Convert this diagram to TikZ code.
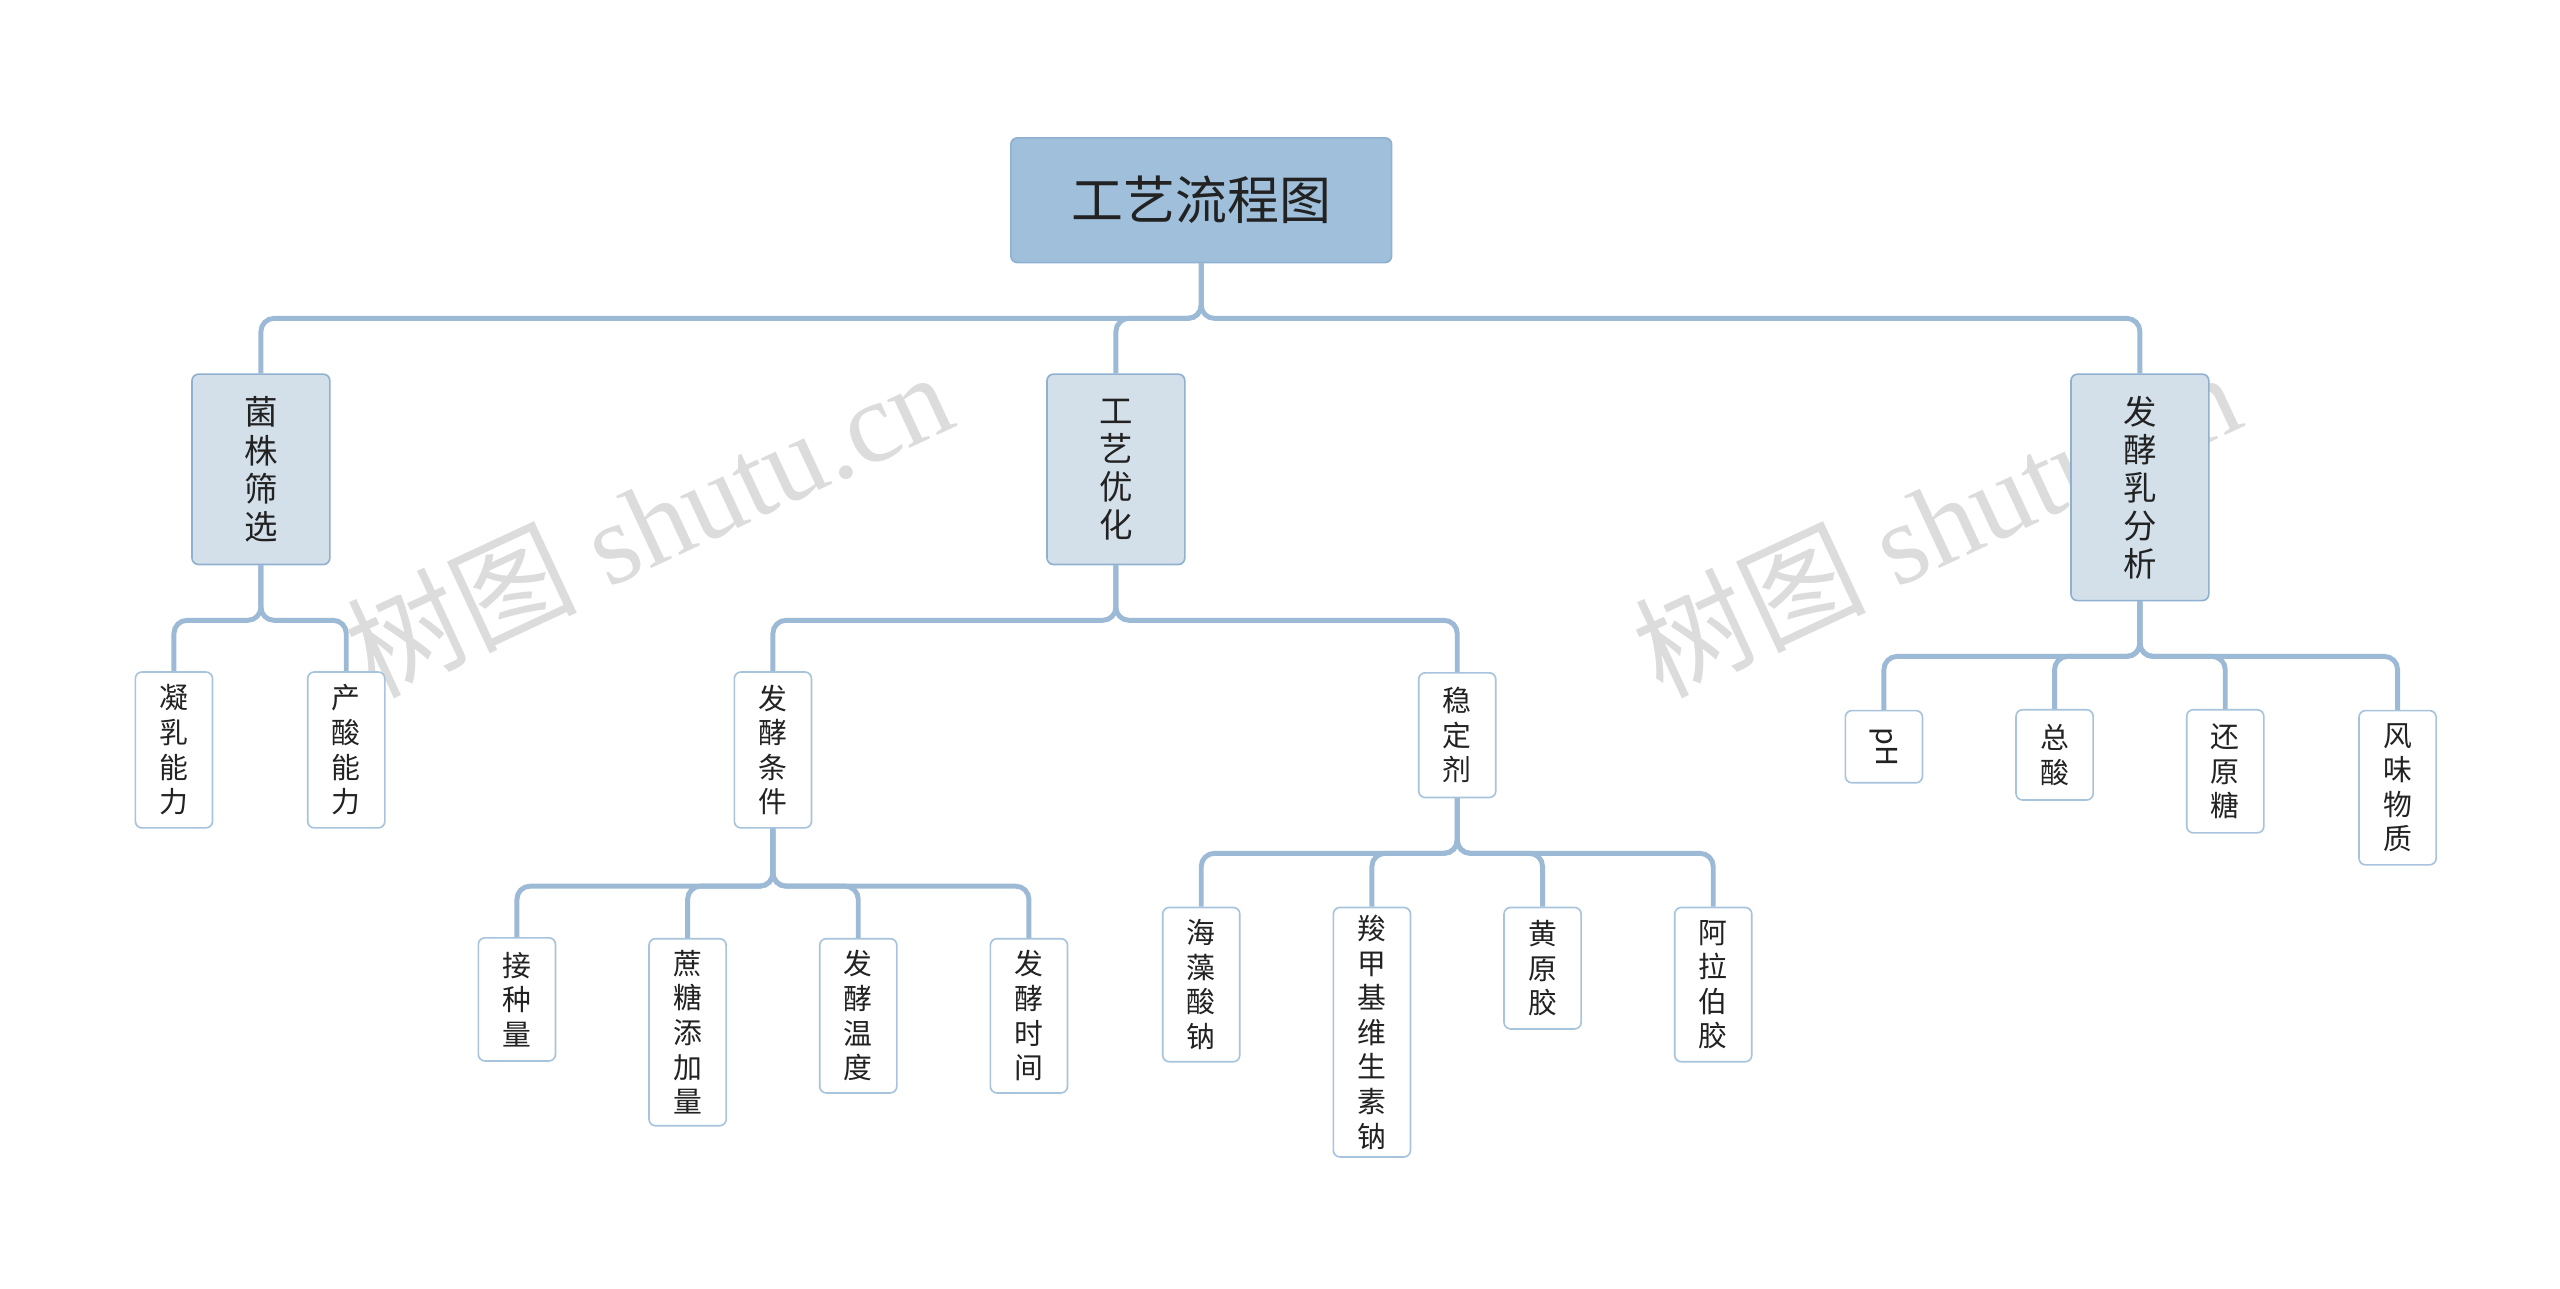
\documentclass[tikz,border=0pt]{standalone}
\usepackage{fontspec}
\setmainfont{Noto Sans CJK SC}
\newfontfamily\wmfont{Liberation Serif}
\begin{document}
\begin{tikzpicture}[x=0.5mm,y=-0.5mm,
 conn/.style={draw=lineblue,line width=1.5mm,rounded corners=4mm},
 rootbox/.style={draw=rootedge,fill=rootfill,line width=0.5mm,rounded corners=2mm,minimum width=116mm,minimum height=38mm,font=\fontsize{45}{50}\selectfont,text=textc},
 lvone/.style={draw=rootedge,fill=l1fill,line width=0.5mm,rounded corners=2mm,minimum width=42mm,align=center,font=\fontsize{29}{33}\selectfont,text=textc,inner sep=0pt},
 leaf/.style={draw=leafedge,fill=white,line width=0.5mm,rounded corners=2mm,minimum width=23.5mm,align=center,font=\fontsize{25}{30}\selectfont,text=textc,inner sep=0pt},
 wm/.style={text=wmgray,font=\wmfont\fontsize{100}{100}\selectfont,rotate=25}]
\definecolor{lineblue}{HTML}{9CBAD6}
\definecolor{rootedge}{HTML}{8FB0CF}
\definecolor{rootfill}{HTML}{9FBFDB}
\definecolor{l1fill}{HTML}{D3E0EA}
\definecolor{leafedge}{HTML}{A7C4DC}
\definecolor{textc}{HTML}{222222}
\definecolor{wmgray}{HTML}{DCDCDC}
\useasboundingbox (0,0) rectangle (1560,785);
\fill[white] (0,0) rectangle (1560,785);
\node[wm] (w1) at (395,318) {\fontspec{Noto Sans CJK SC}树图\wmfont\ shutu.cn};
\node[wm] (w2) at (1180,318) {\fontspec{Noto Sans CJK SC}树图\wmfont\ shutu.cn};

\node[rootbox] (root) at (732,122) {工艺流程图};
\node[lvone,minimum height=58mm] (a) at (159,286) {菌\\株\\筛\\选};
\node[lvone,minimum height=58mm] (b) at (680,286) {工\\艺\\优\\化};
\node[lvone,minimum height=69mm] (c) at (1304,297) {发\\酵\\乳\\分\\析};

\node[leaf,minimum height=47.5mm] (a1) at (106,457) {凝\\乳\\能\\力};
\node[leaf,minimum height=47.5mm] (a2) at (211,457) {产\\酸\\能\\力};
\node[leaf,minimum height=47.5mm] (b1) at (471,457) {发\\酵\\条\\件};
\node[leaf,minimum height=38mm] (b2) at (888,448) {稳\\定\\剂};
\node[leaf,rotate=-90,minimum width=22mm,minimum height=23.5mm] (c1) at (1148,455) {pH};
\node[leaf,minimum height=27.5mm] (c2) at (1252,460) {总\\酸};
\node[leaf,minimum height=37.5mm] (c3) at (1356,470) {还\\原\\糖};
\node[leaf,minimum height=47mm] (c4) at (1461,480) {风\\味\\物\\质};

\node[leaf,minimum height=37.5mm] (d1) at (315,609) {接\\种\\量};
\node[leaf,minimum height=57mm] (d2) at (419,629) {蔗\\糖\\添\\加\\量};
\node[leaf,minimum height=47mm] (d3) at (523,619) {发\\酵\\温\\度};
\node[leaf,minimum height=47mm] (d4) at (627,619) {发\\酵\\时\\间};
\node[leaf,minimum height=47mm] (e1) at (732,600) {海\\藻\\酸\\钠};
\node[leaf,minimum height=76mm] (e2) at (836,629) {羧\\甲\\基\\维\\生\\素\\钠};
\node[leaf,minimum height=37mm] (e3) at (940,590) {黄\\原\\胶};
\node[leaf,minimum height=47mm] (e4) at (1044,600) {阿\\拉\\伯\\胶};

\foreach \ch in {a,b,c} \draw[conn] (root.south) -- (root.south |- 0,194) -| (\ch.north);
\foreach \ch in {a1,a2} \draw[conn] (a.south) -- (a.south |- 0,378) -| (\ch.north);
\foreach \ch in {b1,b2} \draw[conn] (b.south) -- (b.south |- 0,378) -| (\ch.north);
\foreach \ch in {c2,c3,c4} \draw[conn] (c.south) -- (c.south |- 0,400) -| (\ch.north);
\draw[conn] (c.south) -- (c.south |- 0,400) -| (c1.west);
\foreach \ch in {d1,d2,d3,d4} \draw[conn] (b1.south) -- (b1.south |- 0,540) -| (\ch.north);
\foreach \ch in {e1,e2,e3,e4} \draw[conn] (b2.south) -- (b2.south |- 0,520) -| (\ch.north);
\end{tikzpicture}
\end{document}
